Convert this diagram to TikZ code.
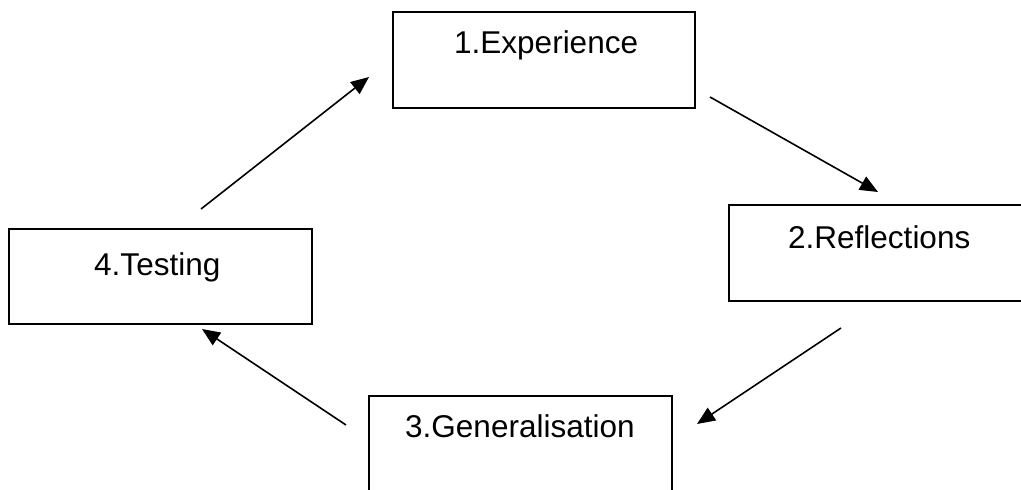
\documentclass[tikz,border=0pt]{standalone}
\usepackage{fontspec}
\setmainfont{Liberation Sans}
\usetikzlibrary{arrows.meta}
\begin{document}
\begin{tikzpicture}[x=1pt,y=-1pt,
  box/.style={draw=black,line width=1.5pt,fill=none},
  lbl/.style={anchor=base west,inner sep=0pt,font=\fontsize{31.5pt}{36pt}\selectfont},
  conn/.style={line width=1.6pt,-{Triangle[length=18pt,width=15pt]}}]
\useasboundingbox (0,0) rectangle (1021,490);
\clip (0,0) rectangle (1021,490);
% boxes
\draw[box] (393,12) rectangle (695,108);
\node[inner sep=0pt] (b1) at (544,60) {};
\draw[box] (729,205) rectangle (1032,301);
\node[inner sep=0pt] (b2) at (880,253) {};
\draw[box] (369,396) rectangle (672,520);
\node[inner sep=0pt] (b3) at (520,458) {};
\draw[box] (9,229) rectangle (312,324);
\node[inner sep=0pt] (b4) at (160,276) {};
% labels
\node[lbl] (t1) at (454,53) {1.Experience};
\node[lbl] (t2) at (788,248) {2.Reflections};
\node[lbl] (t3) at (405,437) {3.Generalisation};
\node[lbl] (t4) at (94,275) {4.Testing};
% connector ends
\coordinate (a1s) at (201,209);
\coordinate (a1e) at (369,77);
\coordinate (a2s) at (710,97);
\coordinate (a2e) at (878,192);
\coordinate (a3s) at (841,328);
\coordinate (a3e) at (697,424);
\coordinate (a4s) at (346,425);
\coordinate (a4e) at (202,329);
\draw[conn] (a1s) -- (a1e);
\draw[conn] (a2s) -- (a2e);
\draw[conn] (a3s) -- (a3e);
\draw[conn] (a4s) -- (a4e);
\end{tikzpicture}
\end{document}
